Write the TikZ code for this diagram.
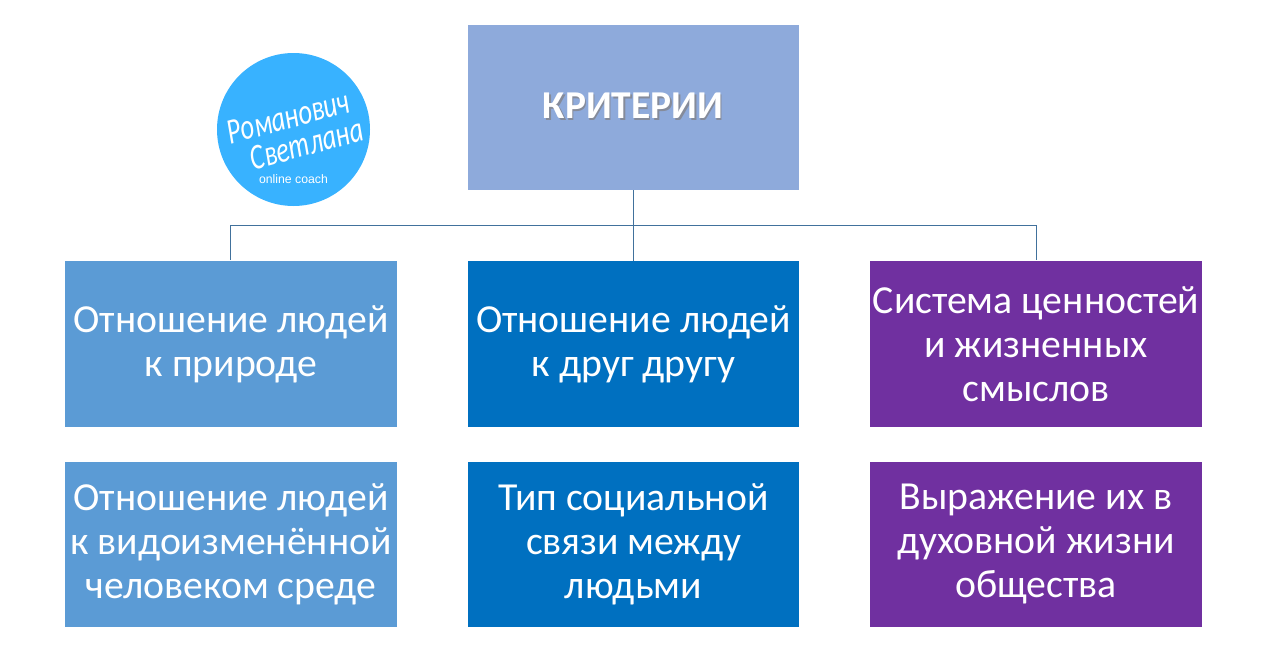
\documentclass[tikz,border=0pt]{standalone}
\usepackage{fontspec}
\setmainfont{Carlito}
\newfontfamily\logofont{Liberation Sans}

\tikzset{
    critbox/.style={minimum width=248.5pt, minimum height=124pt, align=center, text=white, inner sep=0pt, font=\fontsize{29.8}{33}\selectfont},
    logotext/.style={text=white, rotate=15, xscale=0.74, font=\fontsize{27}{27}\selectfont\itshape},
    linkline/.style={draw=linkblue, line width=0.75pt}
}

\begin{document}
\begin{tikzpicture}[x=0.75pt,y=-0.75pt]

    \definecolor{headblue}{RGB}{142,170,219}
    \definecolor{lightcol}{RGB}{91,155,213}
    \definecolor{midcol}{RGB}{0,112,192}
    \definecolor{purplecol}{RGB}{112,48,160}
    \definecolor{logoblue}{RGB}{56,178,255}
    \definecolor{linkblue}{RGB}{65,113,156}
    \definecolor{shadowgray}{RGB}{80,90,110}

    \useasboundingbox (0,0) rectangle (1272,646);

    % Draw the logo
    \fill[logoblue] (293.5,129.5) circle (76.5);
    \node[logotext] (logoa) at (288.5,117) {Романович};
    \node[logotext] (logob) at (306.5,144) {Светлана};
    \node[text=white, font=\logofont\fontsize{9.2}{10}\selectfont] (logoc) at (293.5,179) {online coach};

    % Draw the header box and its shadowed title
    \node[critbox, fill=headblue] (crit) at (633.5,107.5) {};
    \node[text=shadowgray!70, font=\bfseries\fontsize{29.6}{33}\selectfont] (critshadow) at (634.5,107.5) {КРИТЕРИИ};
    \node[text=white, font=\bfseries\fontsize{29.6}{33}\selectfont] (crittext) at (633,106) {КРИТЕРИИ};

    % Draw the first row
    \node[critbox, fill=lightcol] (nature) at (231,344) {Отношение людей\\к природе};
    \node[critbox, fill=midcol] (people) at (633.5,344) {Отношение людей\\к друг другу};
    \node[critbox, fill=purplecol] (values) at (1036,344) {Система ценностей\\и жизненных\\смыслов};

    % Draw the second row
    \node[critbox, fill=lightcol] (habitat) at (231,544.5) {Отношение людей\\к видоизменённой\\человеком среде};
    \node[critbox, fill=midcol] (social) at (633.5,544.5) {Тип социальной\\связи между\\людьми};
    \node[critbox, fill=purplecol] (spirit) at (1036,544.5) {Выражение их в\\духовной жизни\\общества};

    % Draw the links from the header down to the first row
    \coordinate (bus) at (633.5,225.5);
    \draw[linkline] (crit.south) -- (people.north);
    \draw[linkline] (bus) -| ([xshift=-0.75pt,yshift=0.75pt]nature.north);
    \draw[linkline] (bus) -| ([yshift=0.75pt]values.north);

\end{tikzpicture}
\end{document}
